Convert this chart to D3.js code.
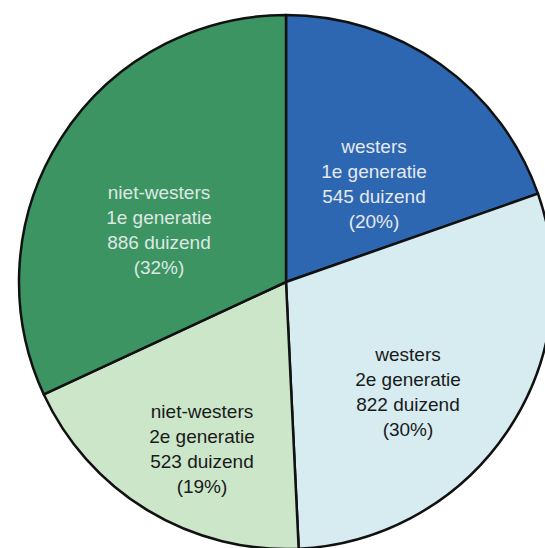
<!DOCTYPE html>
<html><head><meta charset="utf-8">
<script src="https://cdn.jsdelivr.net/npm/d3@7"></script>
<style>html,body{margin:0;padding:0;background:#fff;}svg{display:block;}</style>
</head><body>
<svg id="c" width="545" height="548"></svg>
<script>
const categories = ["westers 1e generatie", "westers 2e generatie", "niet-westers 2e generatie", "niet-westers 1e generatie"];
const labelLines = [
  ["westers", "1e generatie"],
  ["westers", "2e generatie"],
  ["niet-westers", "2e generatie"],
  ["niet-westers", "1e generatie"]
];
const values = [545, 822, 523, 886];
const percents = ["20%", "30%", "19%", "32%"];
const colors = ["#2d66b1", "#d7ecf1", "#cbe6c9", "#3b9462"];
const textColors = ["#e6e9ef", "#1a1a1a", "#1a1a1a", "#dfe8e2"];
// label centre positions (x, first baseline) in px relative to svg
const labelPos = [[374, 153], [408, 361], [202, 418], [159, 199]];

const svg = d3.select("#c");
const cx = 286, cy = 282, R = 267;
const g = svg.append("g").attr("transform", `translate(${cx},${cy})`);
const pie = d3.pie().sort(null).value(d => d)(values);
const arc = d3.arc().innerRadius(0).outerRadius(R);
g.selectAll("path").data(pie).join("path")
  .attr("d", arc)
  .attr("fill", (d, i) => colors[i])
  .attr("stroke", "#111")
  .attr("stroke-width", 2.5)
  .attr("stroke-linejoin", "round");

const lh = 25;
labelPos.forEach((p, i) => {
  const lines = [...labelLines[i], values[i] + " duizend", "(" + percents[i] + ")"];
  const t = svg.append("text")
    .attr("text-anchor", "middle")
    .attr("font-family", "Liberation Sans, Arial, sans-serif")
    .attr("font-size", 19)
    .attr("fill", textColors[i]);
  lines.forEach((l, j) => {
    t.append("tspan").attr("x", p[0]).attr("y", p[1] + j * lh).text(l);
  });
});
</script>
</body></html>
